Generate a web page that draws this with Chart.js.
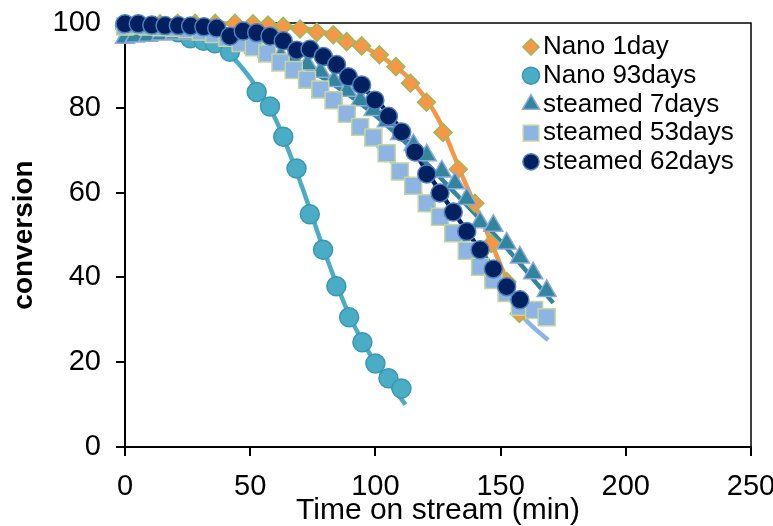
<!DOCTYPE html>
<html>
<head>
<meta charset="utf-8">
<script src="https://cdn.jsdelivr.net/npm/chart.js@4/dist/chart.umd.min.js"></script>
<style>
  html,body{margin:0;padding:0;background:#fff;}
  #wrap{width:773px;height:526px;position:relative;}
</style>
</head>
<body>
<div id="wrap"><canvas id="chart"></canvas></div>
<script>
// marker data (time on stream in min, conversion)
const nano1Time = [0, 7, 14, 21, 28, 36, 43.9, 51.1, 57.1, 63.2, 69.9, 76.6, 83.2, 88.5, 94.5, 101.6, 108.2, 114, 120.4, 127, 133.1, 139.7, 146.3, 152.5, 157.5];
const nano1Conv = [98.5, 99.6, 99.8, 99.9, 99.9, 99.9, 99.9, 99.8, 99.5, 99.2, 98.6, 97.8, 97.2, 95.6, 94.6, 92.5, 89.7, 85.8, 81.3, 74.2, 65.5, 57.5, 48, 39, 31.5];

const nano93Time = [0, 5.3, 10.6, 15.9, 21.2, 26.1, 31.4, 35.9, 41.9, 52.6, 57.9, 63.2, 68.5, 73.8, 79.1, 84.4, 89.5, 94.8, 100, 105.2, 110.4];
const nano93Conv = [99.5, 99.4, 99.2, 98.6, 97.8, 96.4, 95.8, 95.2, 93.2, 83.7, 80.3, 73.2, 65.7, 54.9, 46.5, 37.9, 30.6, 24.7, 19.7, 16.2, 13.8];

const s7Time = [0, 3.9, 9.2, 14.5, 19.8, 25.1, 30.4, 35.7, 41, 46.3, 51.6, 56.9, 62.2, 67.5, 72.8, 78.1, 83.4, 88.7, 94, 99.3, 104.6, 109.9, 115.2, 120.5, 126.5, 131.8, 136.5, 141.8, 147.1, 152.4, 157.7, 163, 168.4];
const s7Conv = [96.5, 96.8, 97, 97.3, 97.5, 97.4, 97.2, 96.8, 96, 95.2, 94.2, 93.2, 92.2, 91.3, 90.3, 88.5, 86.3, 84, 81.8, 79.5, 76.8, 73.8, 71.2, 68.8, 65, 62.2, 58.5, 53, 52.2, 48, 44.7, 41, 36.8];

const s53Time = [0, 4, 9.1, 14.4, 19.7, 25, 30.3, 35.6, 40.9, 46.2, 51.5, 56.8, 62.1, 67.4, 72.7, 78, 83.3, 88.6, 93.9, 99.2, 104.5, 109.8, 115.1, 120.5, 125.8, 131.1, 136.5, 141.8, 147.1, 152.4, 157.7, 163.4, 168.4];
const s53Conv = [99.2, 99.4, 99.2, 99, 98.8, 98.5, 98, 97.4, 96.5, 95.3, 94.3, 92.8, 90.7, 88.9, 86.6, 84.3, 81.8, 78.6, 75.5, 73, 69.3, 65, 61.6, 57.5, 54.3, 50.4, 46.3, 42.5, 39.4, 36.3, 33.1, 32.3, 30.6];

const s62Time = [0, 5.3, 10.7, 16, 21.3, 26.2, 31.5, 36.6, 41.9, 47.2, 52.6, 57.9, 63.2, 68.6, 73.9, 79.2, 84.5, 89.2, 94.5, 99.8, 105.2, 110.5, 115.8, 120.5, 125.8, 131.1, 136.5, 141.8, 147.1, 152.4, 157.7];
const s62Conv = [99.8, 99.8, 99.5, 99.4, 99.4, 99.3, 99.1, 98.8, 96.9, 98.1, 97.7, 96.9, 95.8, 93.6, 93.8, 92.1, 90.2, 87.3, 85.4, 81.8, 78, 74.3, 69.6, 64.4, 59.9, 55.4, 50.8, 46.5, 42, 37.8, 34.7];

// fitted curves
const nano1FitTime = [0, 40, 60, 80, 95, 105, 115, 125, 135, 145, 152, 159];
const nano1FitConv = [99.9, 99.9, 99.4, 97.8, 94.5, 91, 86, 77.5, 63.5, 50, 40, 30];
const nano93FitTime = [0, 15, 30, 40, 50, 60, 70, 80, 90, 100, 112];
const nano93FitConv = [99.7, 99, 96.8, 93.5, 87, 77.5, 62.5, 45.5, 30.5, 19.8, 10];
const s7FitTime = [0, 30, 50, 70, 90, 110, 130, 150, 171];
const s7FitConv = [97.2, 97, 94.5, 90, 82.8, 73, 61, 48.5, 34];
const s53FitTime = [0, 30, 50, 70, 90, 110, 130, 150, 160, 169];
const s53FitConv = [99.5, 98.3, 95, 88, 78, 65, 51.5, 38, 30, 25.2];
const s62FitTime = [0, 40, 60, 80, 100, 110, 120, 130, 140, 150, 159];
const s62FitConv = [99.8, 98.6, 96.3, 91.5, 82, 75, 65.5, 56.5, 48, 39.8, 33.5];

const seriesNames = ['Nano 1day', 'Nano 93days', 'steamed 7days', 'steamed 53days', 'steamed 62days'];
const xTicks = [0, 50, 100, 150, 200, 250];
const yTicks = [0, 20, 40, 60, 80, 100];

const pts = (xs, ys) => xs.map((x, i) => ({x, y: ys[i]}));

const markerSets = [
  {label: seriesNames[0], data: pts(nano1Time, nano1Conv), pointStyle: 'rectRot', pointRadius: 9, backgroundColor: '#F79646', borderColor: '#9BBB59', borderWidth: 1.5},
  {label: seriesNames[1], data: pts(nano93Time, nano93Conv), pointStyle: 'circle', pointRadius: 9.5, backgroundColor: '#4BACC6', borderColor: '#3A98B0', borderWidth: 1.5},
  {label: seriesNames[2], data: pts(s7Time, s7Conv), pointStyle: 'triangle', pointRadius: 11, backgroundColor: '#31859C', borderColor: '#8EA9DB', borderWidth: 1.5},
  {label: seriesNames[3], data: pts(s53Time, s53Conv), pointStyle: 'rect', pointRadius: 12, backgroundColor: '#8DB4E2', borderColor: '#C3D69B', borderWidth: 1.5},
  {label: seriesNames[4], data: pts(s62Time, s62Conv), pointStyle: 'circle', pointRadius: 9, backgroundColor: '#002060', borderColor: '#4F81BD', borderWidth: 1.5}
];

const fitSets = [
  {data: pts(nano1FitTime, nano1FitConv), borderColor: '#F79646'},
  {data: pts(nano93FitTime, nano93FitConv), borderColor: '#4BACC6'},
  {data: pts(s7FitTime, s7FitConv), borderColor: '#31859C'},
  {data: pts(s53FitTime, s53FitConv), borderColor: '#8DB4E2'},
  {data: pts(s62FitTime, s62FitConv), borderColor: '#002060'}
];

const datasets = [];
fitSets.forEach((f, i) => {
  datasets.push({label: 'fit' + i, data: f.data, showLine: true, borderColor: f.borderColor, borderWidth: 4.5,
    pointRadius: 0, pointHoverRadius: 0, cubicInterpolationMode: 'monotone', fill: false, clip: false, order: 10});
});
markerSets.forEach((m, i) => {
  datasets.push(Object.assign({showLine: false, hoverRadius: m.pointRadius, clip: false, order: 5 - i,
    pointBackgroundColor: m.backgroundColor, pointBorderColor: m.borderColor, pointBorderWidth: m.borderWidth}, m));
});

const frame = {
  id: 'frame',
  beforeDatasetsDraw(chart){
    const {ctx, chartArea: a} = chart;
    ctx.save();
    ctx.strokeStyle = '#000';
    ctx.lineWidth = 1.5;
    ctx.beginPath();
    ctx.moveTo(a.left, a.top);
    ctx.lineTo(a.right, a.top);
    ctx.lineTo(a.right, a.bottom);
    ctx.stroke();
    ctx.restore();
  }
};

const legendBox = {
  id: 'legendBox',
  afterDatasetsDraw(chart){
    const ctx = chart.ctx;
    const mx = 531, tx = 543, y0 = 47, dy = 28.7;
    ctx.save();
    ctx.font = '26px "Liberation Sans", Arial, sans-serif';
    ctx.textBaseline = 'middle';
    markerSets.forEach((m, i) => {
      const y = y0 + i * dy;
      ctx.fillStyle = m.backgroundColor;
      ctx.strokeStyle = m.borderColor;
      ctx.lineWidth = m.borderWidth;
      Chart.helpers.drawPoint(ctx, {pointStyle: m.pointStyle, radius: m.pointStyle === 'rect' ? 11 : m.pointRadius * 0.9, rotation: 0, borderWidth: m.borderWidth}, mx, y);
      ctx.fillStyle = '#000';
      ctx.fillText(m.label, tx, y);
    });
    ctx.restore();
  }
};

const noPad = s => { s.paddingTop = 0; s.paddingBottom = 0; s.paddingLeft = 0; s.paddingRight = 0; };

new Chart(document.getElementById('chart'), {
  type: 'scatter',
  data: {datasets},
  options: {
    responsive: true,
    maintainAspectRatio: false,
    animation: false,
    layout: {padding: {top: 23, right: 22, left: 0, bottom: 0}},
    plugins: {legend: {display: false}, tooltip: {enabled: false}},
    scales: {
      x: {
        type: 'linear', min: 0, max: 250,
        afterFit(s){ s.height = 79; noPad(s); },
        afterBuildTicks(s){ s.ticks = xTicks.map(v => ({value: v})); },
        ticks: {color: '#000', padding: 14, font: {family: '"Liberation Sans", Arial, sans-serif', size: 29}},
        grid: {drawOnChartArea: false, color: '#000', lineWidth: 2, tickLength: 9},
        border: {color: '#000', width: 2},
        title: {display: true, text: 'Time on stream (min)', color: '#000', padding: {top: 0, bottom: 0},
          font: {family: '"Liberation Sans", Arial, sans-serif', size: 30, lineHeight: 1}}
      },
      y: {
        type: 'linear', min: 0, max: 100,
        afterFit(s){ s.width = 125; noPad(s); },
        afterBuildTicks(s){ s.ticks = yTicks.map(v => ({value: v})); },
        ticks: {color: '#000', padding: 15, font: {family: '"Liberation Sans", Arial, sans-serif', size: 29}},
        grid: {drawOnChartArea: false, color: '#000', lineWidth: 2, tickLength: 9},
        border: {color: '#000', width: 2},
        title: {display: true, text: 'conversion', color: '#000', padding: {top: 10, bottom: 0},
          font: {family: '"Liberation Sans", Arial, sans-serif', size: 28, weight: 'bold', lineHeight: 1}}
      }
    }
  },
  plugins: [frame, legendBox]
});
</script>
</body>
</html>
